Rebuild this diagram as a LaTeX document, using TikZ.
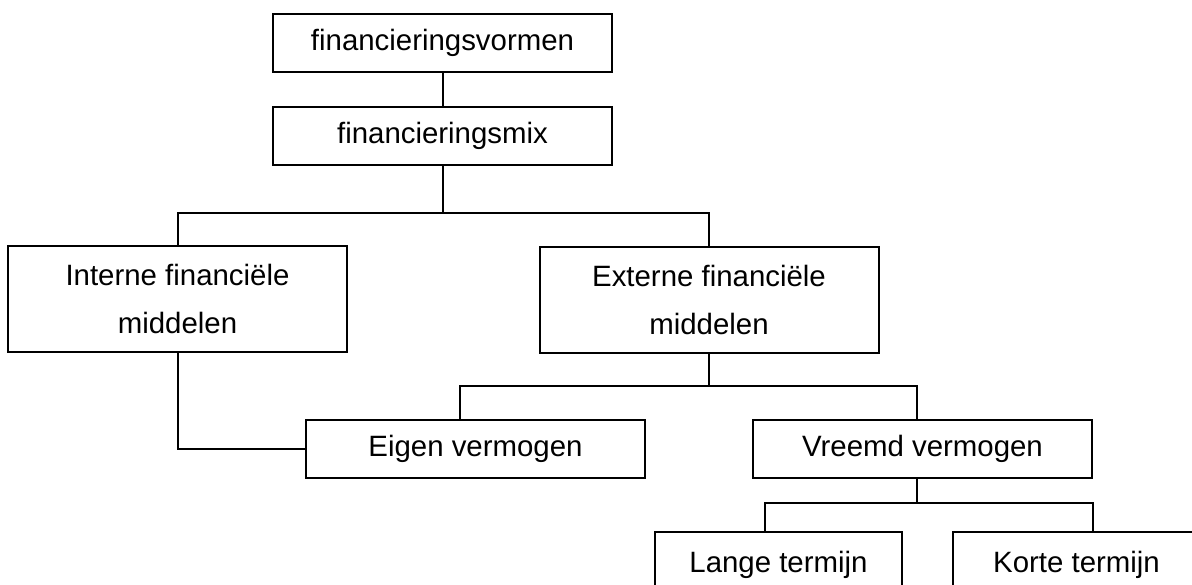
\documentclass[tikz,border=0pt]{standalone}
\usepackage{fontspec}
\setmainfont{Liberation Sans}
\begin{document}
\begin{tikzpicture}
		[
		x=0.5pt, y=-0.5pt,
		box/.style={draw, line width=1pt, inner sep=0pt, align=center,
			minimum width=169.5pt, minimum height=29pt,
			font=\fontsize{14.7}{24}\selectfont},
		tallbox/.style={box, minimum height=53pt},
		smallbox/.style={box, minimum width=123.5pt, minimum height=33pt},
		link/.style={line width=1pt}
		]
		\useasboundingbox (0,0) rectangle (1192,584);
		% boxes
		\node[box] (vormen) at (442.5,42.5) {financieringsvormen};
		\node[box] (mix) at (442.5,135.5) {financieringsmix};
		\node[tallbox] (interne) at (177.5,299) {Interne financiële\\middelen};
		\node[tallbox] (externe) at (709,299.5) {Externe financiële\\middelen};
		\node[box] (eigen) at (475.5,448.5) {Eigen vermogen};
		\node[box] (vreemd) at (922.5,449) {Vreemd vermogen};
		\node[smallbox] (lange) at (778.5,565) {Lange termijn};
		\node[smallbox] (korte) at (1076.5,565) {Korte termijn};
		% connectors
		\coordinate (bus1) at ([yshift=-23.5pt]mix.south);
		\coordinate (bus2) at ([yshift=-16pt]externe.south);
		\coordinate (bus3) at ([xshift=-3pt,yshift=-12pt]vreemd.south);
		\draw[link] (vormen.south) -- (mix.north);
		\draw[link] (mix.south) -- (bus1);
		\draw[link] (interne.north) |- (bus1) -| (externe.north);
		\draw[link] (interne.south) |- (eigen.west);
		\draw[link] (externe.south) -- (bus2);
		\draw[link] ([xshift=-8pt]eigen.north) |- (bus2) -| ([xshift=-3pt]vreemd.north);
		\draw[link] ([xshift=-3pt]vreemd.south) -- (bus3);
		\draw[link] ([xshift=-7pt]lange.north) |- (bus3) -| ([xshift=8pt]korte.north);
\end{tikzpicture}
\end{document}
